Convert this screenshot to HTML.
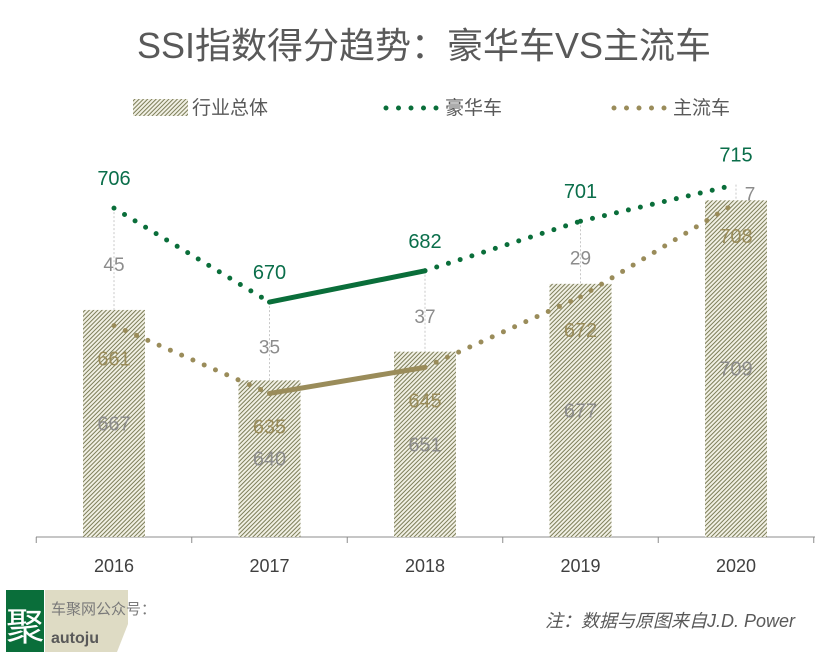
<!DOCTYPE html>
<html><head><meta charset="utf-8">
<style>
body{margin:0;background:#fff;width:830px;height:662px;overflow:hidden;font-family:"Liberation Sans","Noto Sans CJK SC",sans-serif;}
svg text{font-family:"Liberation Sans","Noto Sans CJK SC",sans-serif;}
</style></head>
<body>
<svg id="chart" width="830" height="662" viewBox="0 0 830 662">
<defs>
<pattern id="hatch" width="3" height="3" patternUnits="userSpaceOnUse" patternTransform="rotate(-45)">
<rect width="3" height="3" fill="#f1f0e4"/>
<rect width="3" height="1" fill="#7c7d58"/>
</pattern>
</defs>
<text x="424" y="58" text-anchor="middle" font-size="36" fill="#595959">SSI指数得分趋势：豪华车VS主流车</text>
<g>
<rect x="133" y="99" width="55" height="17" fill="url(#hatch)"/>
<text x="192" y="114" font-size="19" fill="#595959">行业总体</text>
<line x1="386" y1="108" x2="440" y2="108" stroke="#0a6e3a" stroke-width="5" stroke-linecap="round" stroke-dasharray="0 12.5"/>
<text x="445" y="114" font-size="19" fill="#595959">豪华车</text>
<line x1="614" y1="108" x2="668" y2="108" stroke="#9a8c5a" stroke-width="5" stroke-linecap="round" stroke-dasharray="0 12.5"/>
<text x="673" y="114" font-size="19" fill="#595959">主流车</text>
</g>
<g id="plot"></g>
<g>
<rect x="6" y="590" width="38" height="62" fill="#0a6e3a"/>
<text x="25" y="640" text-anchor="middle" font-size="38" fill="#fff">聚</text>
<polygon points="45,590 128,590 128,624 117,652 45,652" fill="#dedbc4"/>
<text x="51" y="614" font-size="15" fill="#7a7a7a">车聚网公众号：</text>
<text x="51" y="643" font-size="16" font-weight="bold" fill="#595959">autoju</text>
<text x="795" y="627" text-anchor="end" font-size="18" font-style="italic" fill="#595959">注：数据与原图来自J.D. Power</text>
</g>
</svg>
<script>
const years=["2016","2017","2018","2019","2020"];
const industry=[667,640,651,677,709];
const luxury=[706,670,682,701,715];
const mainstream=[661,635,645,672,708];
const gaps=[45,35,37,29,7];
const NS="http://www.w3.org/2000/svg";
const plot=document.getElementById('plot');
const x0=114, dx=155.5, base=580, axisY=537, k=2.61;
const X=i=>x0+i*dx;
const Y=v=>axisY-(v-base)*k;
function el(t,a,txt){const e=document.createElementNS(NS,t);for(const n in a)e.setAttribute(n,a[n]);if(txt!=null)e.textContent=txt;plot.appendChild(e);return e;}
let ax=el('line',{x1:36,y1:axisY,x2:815,y2:axisY,stroke:'#8c8c8c','stroke-width':1});


for(let i=0;i<=5;i++){const tx=X(i)-dx/2;const t=el('line',{x1:tx,y1:axisY,x2:tx,y2:axisY+6,stroke:'#8c8c8c'});

}
years.forEach((y,i)=>{
 const b=el('rect',{x:X(i)-31,y:Y(industry[i]),width:62,height:axisY-Y(industry[i]),fill:'url(#hatch)'});
 
 
 const l=el('text',{x:X(i),y:572,'text-anchor':'middle','font-size':18,fill:'#404040'},y);
 
 
 const g=el('line',{x1:X(i),y1:Y(luxury[i]),x2:X(i),y2:Y(industry[i]),stroke:'#c8c8c8','stroke-width':1,'stroke-dasharray':'2 2'});
 
 
});
function series(vals,color,name){
 for(let i=0;i<vals.length-1;i++){
  const solid=(i===1);
  const a={x1:X(i),y1:Y(vals[i]),x2:X(i+1),y2:Y(vals[i+1]),stroke:color,'stroke-linecap':'round','stroke-width':5};
  if(!solid)a['stroke-dasharray']='0 12.3';
  const s=el('line',a);
  
  
 }
}
series(mainstream,'#9a8c5a','mainstream-line');
series(luxury,'#0a6e3a','luxury-line');
years.forEach((y,i)=>{
 const lt=el('text',{x:X(i),y:Y(luxury[i])-23,'text-anchor':'middle','font-size':20,fill:'#0a6e4a'},luxury[i]);
 
 
 const small=gaps[i]<15;
 const gy=small?Y(luxury[i])+16:(Y(luxury[i])+Y(industry[i]))/2+12;
 const gx=small?X(i)+14:X(i);
 const gt=el('text',{x:gx,y:gy,'text-anchor':'middle','font-size':19,fill:'#8c8c8c'},gaps[i]);
 
 
 const mt=el('text',{x:X(i),y:Y(mainstream[i])+40,'text-anchor':'middle','font-size':20,fill:'#9a8c5a'},mainstream[i]);
 
 
 const it=el('text',{x:X(i),y:(Y(industry[i])+axisY)/2+7,'text-anchor':'middle','font-size':20,fill:'#8c8c8c'},industry[i]);
 
 
});
</script>
</body></html>
